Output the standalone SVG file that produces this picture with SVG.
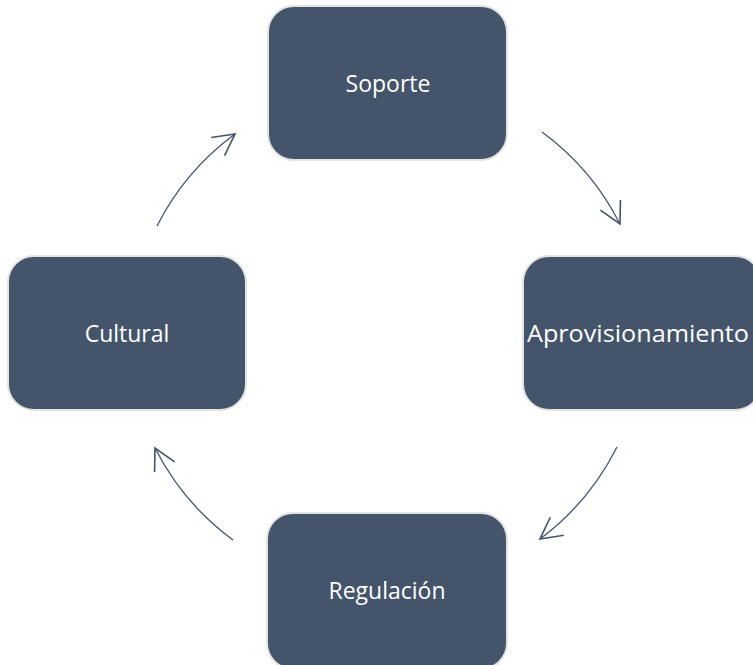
<svg xmlns="http://www.w3.org/2000/svg" width="753" height="665" viewBox="0 0 753 665">
<style>
.box{fill:#44546a;stroke:#e3e3e3;stroke-width:2}
.lbl{fill:#ffffff;font-family:"Open Sans","Liberation Sans",sans-serif;font-size:23px;text-anchor:middle}
.arc{fill:none;stroke:#44546a;stroke-width:1.3}
</style>
<defs>
<marker id="ah" markerUnits="userSpaceOnUse" markerWidth="30" markerHeight="30" refX="0" refY="0" viewBox="-20 -12 24 24" orient="auto" overflow="visible">
<path d="M-17,-9 L0,0 L-17,9" fill="none" stroke="#44546a" stroke-width="1.3"/>
</marker>
</defs>
<rect width="753" height="665" fill="#ffffff"/>
<g id="connectors">
<path class="arc" d="M542,132 A260,260 0 0 1 620,224" marker-end="url(#ah)"/>
<path class="arc" d="M617,447 A260,260 0 0 1 540,539" marker-end="url(#ah)"/>
<path class="arc" d="M233,540 A260,260 0 0 1 155,448" marker-end="url(#ah)"/>
<path class="arc" d="M157,226 A260,260 0 0 1 235,134" marker-end="url(#ah)"/>
</g>
<g id="soporte">
<rect class="box" x="268" y="6" width="239" height="154" rx="26"/>
<text class="lbl" x="388" y="92">Soporte</text>
</g>
<g id="cultural">
<rect class="box" x="8" y="256" width="238" height="154" rx="26"/>
<text class="lbl" x="127" y="342">Cultural</text>
</g>
<g id="aprovisionamiento">
<rect class="box" x="523" y="256" width="238" height="154" rx="26"/>
<text class="lbl" x="638" y="342" textLength="222" lengthAdjust="spacingAndGlyphs">Aprovisionamiento</text>
</g>
<g id="regulacion">
<rect class="box" x="267" y="513" width="240" height="156" rx="26"/>
<text class="lbl" x="387" y="599">Regulación</text>
</g>
</svg>
